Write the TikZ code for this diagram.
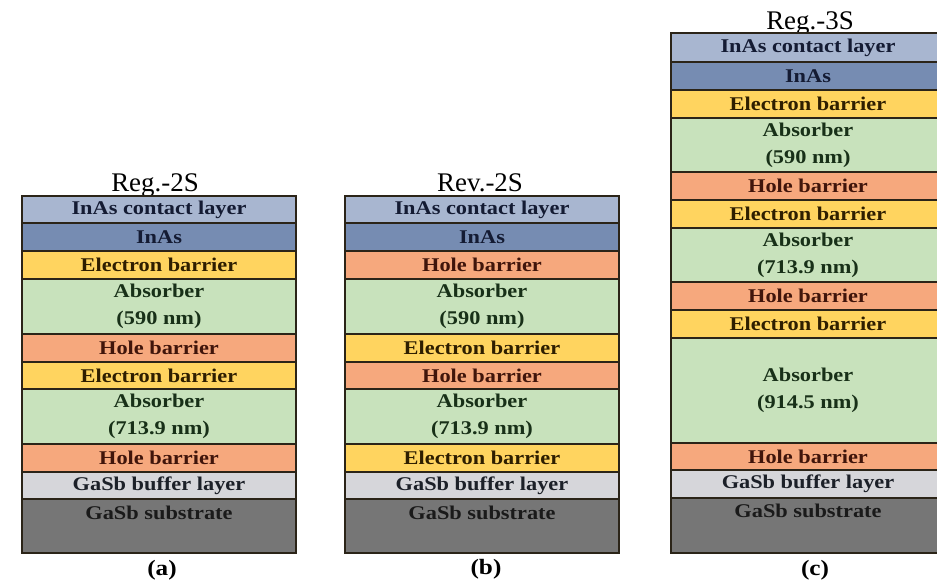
\documentclass[tikz,border=0pt]{standalone}
\usepackage{fontspec}
\setmainfont{Liberation Serif}
\newfontfamily\layfont{Liberation Serif}[FakeStretch=1.15]
\definecolor{bordc}{HTML}{2B2418}
\definecolor{ccontact}{HTML}{A8B6D0}
\definecolor{cinas}{HTML}{768CB2}
\definecolor{ceb}{HTML}{FFD45F}
\definecolor{cabs}{HTML}{C8E2BC}
\definecolor{chole}{HTML}{F6A87D}
\definecolor{cbuf}{HTML}{D6D6DA}
\definecolor{csub}{HTML}{767676}
\definecolor{tnavy}{HTML}{141B33}
\definecolor{tbrown}{HTML}{2E1E00}
\definecolor{tgreen}{HTML}{183018}
\definecolor{tred}{HTML}{40150B}
\definecolor{tgray}{HTML}{1C2028}
\definecolor{tdark}{HTML}{1A1A1A}
\tikzset{
  lay/.style={draw=bordc, line width=1.2bp, inner sep=0pt, outer sep=0pt,
    minimum width=274bp, align=center,
    font=\layfont\bfseries\fontsize{19.5}{27}\selectfont},
  contact/.style={fill=ccontact, text=tnavy},
  inas/.style={fill=cinas, text=tnavy},
  ebar/.style={fill=ceb, text=tbrown},
  absr/.style={fill=cabs, text=tgreen},
  hole/.style={fill=chole, text=tred},
  buf/.style={fill=cbuf, text=tgray},
  sub/.style={fill=csub, text=tdark},
  subtext/.style={inner sep=0pt, text=tdark, font=\layfont\bfseries\fontsize{19.5}{27}\selectfont},
  ttl/.style={inner sep=0pt, anchor=base, font=\fontsize{27}{30}\selectfont},
  panellabel/.style={inner sep=0pt, font=\layfont\bfseries\fontsize{22}{24}\selectfont}
}
\newcommand{\lyr}[6]{\node[lay,#5,minimum height={(#4-#3)*1bp}] (#1) at ({#2+137},{(#3+#4)/2}) {#6};}
\begin{document}
\begin{tikzpicture}[x=1bp,y=-1bp]
\useasboundingbox (0,0) rectangle (937,582);
\clip (0,0) rectangle (937,582);
\fill[white] (0,0) rectangle (937,582);
% (a) Reg.-2S
\node[ttl] (ta) at (155,192) {Reg.-2S};
\lyr{a1}{22}{196}{223}{contact}{InAs contact layer}
\lyr{a2}{22}{223}{251}{inas}{InAs}
\lyr{a3}{22}{251}{279}{ebar}{Electron barrier}
\lyr{a4}{22}{279}{334}{absr}{Absorber\\(590 nm)}
\lyr{a5}{22}{334}{362}{hole}{Hole barrier}
\lyr{a6}{22}{362}{389}{ebar}{Electron barrier}
\lyr{a7}{22}{389}{444}{absr}{Absorber\\(713.9 nm)}
\lyr{a8}{22}{444}{472}{hole}{Hole barrier}
\lyr{a9}{22}{472}{499}{buf}{GaSb buffer layer}
\lyr{a10}{22}{499}{553}{sub}{}
\node[subtext] (a10t) at ([yshift=-14bp]a10.north) {GaSb substrate};
\node[panellabel] (ca) at (162,570) {(a)};
% (b) Rev.-2S
\node[ttl] (tb) at (480,192) {Rev.-2S};
\lyr{b1}{345}{196}{223}{contact}{InAs contact layer}
\lyr{b2}{345}{223}{251}{inas}{InAs}
\lyr{b3}{345}{251}{279}{hole}{Hole barrier}
\lyr{b4}{345}{279}{334}{absr}{Absorber\\(590 nm)}
\lyr{b5}{345}{334}{362}{ebar}{Electron barrier}
\lyr{b6}{345}{362}{389}{hole}{Hole barrier}
\lyr{b7}{345}{389}{444}{absr}{Absorber\\(713.9 nm)}
\lyr{b8}{345}{444}{472}{ebar}{Electron barrier}
\lyr{b9}{345}{472}{499}{buf}{GaSb buffer layer}
\lyr{b10}{345}{499}{553}{sub}{}
\node[subtext] (b10t) at ([yshift=-14bp]b10.north) {GaSb substrate};
\node[panellabel] (cb) at (486,569) {(b)};
% (c) Reg.-3S
\node[ttl] (tc) at (810,30) {Reg.-3S};
\lyr{c1}{671}{33}{62}{contact}{InAs contact layer}
\lyr{c2}{671}{62}{90}{inas}{InAs}
\lyr{c3}{671}{90}{118}{ebar}{Electron barrier}
\lyr{c4}{671}{118}{172}{absr}{Absorber\\(590 nm)}
\lyr{c5}{671}{172}{200}{hole}{Hole barrier}
\lyr{c6}{671}{200}{228}{ebar}{Electron barrier}
\lyr{c7}{671}{228}{282}{absr}{Absorber\\(713.9 nm)}
\lyr{c8}{671}{282}{310}{hole}{Hole barrier}
\lyr{c9}{671}{310}{338}{ebar}{Electron barrier}
\lyr{c10}{671}{338}{443}{absr}{Absorber\\(914.5 nm)}
\lyr{c11}{671}{443}{470}{hole}{Hole barrier}
\lyr{c12}{671}{470}{498}{buf}{GaSb buffer layer}
\lyr{c13}{671}{498}{553}{sub}{}
\node[subtext] (c13t) at ([yshift=-13bp]c13.north) {GaSb substrate};
\node[panellabel] (cc) at (815,570) {(c)};
\end{tikzpicture}
\end{document}
